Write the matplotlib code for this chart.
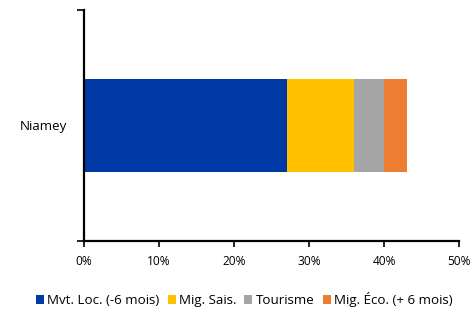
import matplotlib.pyplot as plt
import matplotlib.ticker as mtick

plt.rcParams['font.family'] = ['Open Sans', 'DejaVu Sans']

villes = ['Niamey']
series = ['Mvt. Loc. (-6 mois)', 'Mig. Sais.', 'Tourisme', 'Mig. Éco. (+ 6 mois)']
valeurs = [[27], [9], [4], [3]]
couleurs = ['#0039A6', '#FFC000', '#A5A5A5', '#ED7D31']

fig = plt.figure(figsize=(4.72, 3.09), dpi=100)
ax = fig.add_axes([0.178, 0.22, 0.795, 0.748])

gauche = [0] * len(villes)
for nom, vals, c in zip(series, valeurs, couleurs):
    ax.barh(villes, vals, left=gauche, height=0.4, color=c, label=nom)
    gauche = [g + v for g, v in zip(gauche, vals)]

ax.set_xlim(0, 50)
ax.set_ylim(-0.5, 0.5)
ax.xaxis.set_major_formatter(mtick.PercentFormatter(decimals=0))
ax.set_xticks(range(0, 51, 10))

for s in ['top', 'right']:
    ax.spines[s].set_visible(False)
for s in ['left', 'bottom']:
    ax.spines[s].set_linewidth(1.6)

ax.tick_params(axis='x', direction='out', length=4, width=1.2, labelsize=8.6, pad=6)
ax.tick_params(axis='y', which='major', length=0, labelsize=9.6, pad=12)
ax.set_yticks([-0.5, 0.5], minor=True)
ax.tick_params(axis='y', which='minor', direction='out', length=5, width=1.2)

fig.legend(loc='lower left', bbox_to_anchor=(0.065, -0.012), ncol=4, frameon=False,
           fontsize=9.6, handlelength=0.6, handleheight=0.6, handletextpad=0.25,
           columnspacing=0.6, borderaxespad=0)

fig.savefig('out.png', dpi=100)
